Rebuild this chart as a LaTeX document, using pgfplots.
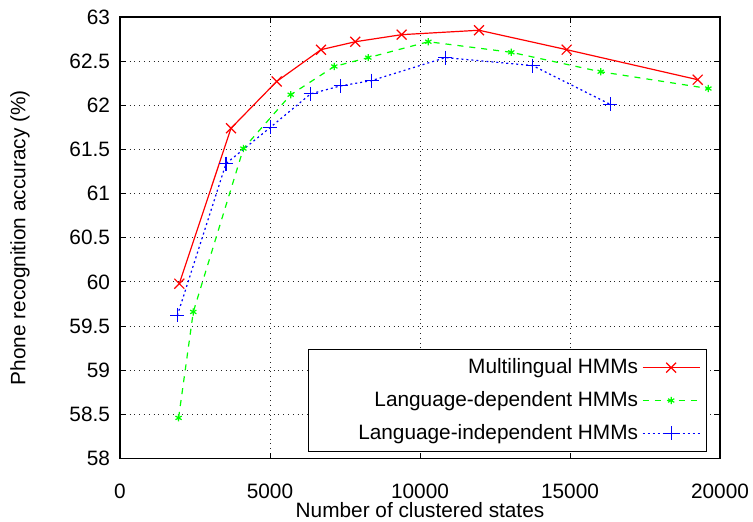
\documentclass[border=0pt]{standalone}
\usepackage{pgfplots}
\pgfplotsset{compat=1.18}
\usepackage{fontspec}
\setmainfont{Liberation Sans}
\begin{document}
\begin{tikzpicture}
\path[use as bounding box] (-60pt,-31.25pt) rectangle (316.5pt,229.25pt);
\begin{axis}[
  scale only axis,
  width=300pt, height=220.75pt,
  xmin=0, xmax=20000, ymin=58, ymax=63,
  xtick={0,5000,10000,15000,20000},
  scaled x ticks=false,
  ytick={58,58.5,59,59.5,60,60.5,61,61.5,62,62.5,63},
  yticklabels={58,58.5,59,59.5,60,60.5,61,61.5,62,62.5,63},
  /pgf/number format/assume math mode=true,
  /pgf/number format/1000 sep={},
  font=\fontsize{10.4}{12}\selectfont,
  tick label style={font=\fontsize{10.4}{12}\selectfont},
  xticklabel style={yshift=-9pt},
  yticklabel style={xshift=-1.5pt},
  xlabel={Number of clustered states},
  ylabel={Phone recognition accuracy (\%)},
  xlabel style={at={(axis description cs:0.5,-0.1167)}, anchor=center},
  ylabel style={at={(axis description cs:-0.1667,0.5)}, anchor=center, rotate=0},
  grid=major,
  major grid style={dotted, black!85, line width=0.5pt},
  axis line style={black, line width=0.7pt},
  tick style={black, line width=0.5pt},
  major tick length=3pt,
  tick pos=both,
  legend plot pos=right,
  legend cell align=right,
  legend style={at={(axis description cs:0.978,0.0147)}, anchor=south east,
    draw=black, line width=0.6pt, row sep=3.4pt, inner xsep=3pt, inner ysep=2.5pt,
    font=\fontsize{10.4}{12}\selectfont},
  legend image code/.code={
    \draw[mark repeat=2,mark phase=2,#1] plot coordinates {(0cm,0cm) (0.5cm,0cm) (1cm,0cm)};},
]
\addplot[red, line width=0.6pt, mark=x, mark size=3.5pt, mark options={solid}] coordinates {
(1977,59.98) (3700,61.74) (5222,62.27) (6700,62.63) (7844,62.72) (9389,62.80) (11967,62.85) (14889,62.63) (19256,62.29)};
\addlegendentry{Multilingual HMMs}
\addplot[green, line width=0.6pt, dashed, mark=asterisk, mark size=1.8pt, mark options={solid}] coordinates {
(1953,58.46) (2443,59.66) (4113,61.51) (5690,62.12) (7144,62.44) (8278,62.54) (10278,62.72) (13044,62.60) (16022,62.38) (19611,62.19)};
\addlegendentry{Language-dependent HMMs}
\addplot[blue, line width=0.6pt, dash pattern=on 1pt off 1.5pt, mark=+, mark size=3.5pt, mark options={solid}] coordinates {
(1911,59.62) (3533,61.34) (5011,61.75) (6356,62.13) (7356,62.22) (8389,62.28) (10844,62.54) (13756,62.45) (16344,62.01)};
\addlegendentry{\hspace*{20pt}Language-independent HMMs}
\end{axis}
\end{tikzpicture}
\end{document}
